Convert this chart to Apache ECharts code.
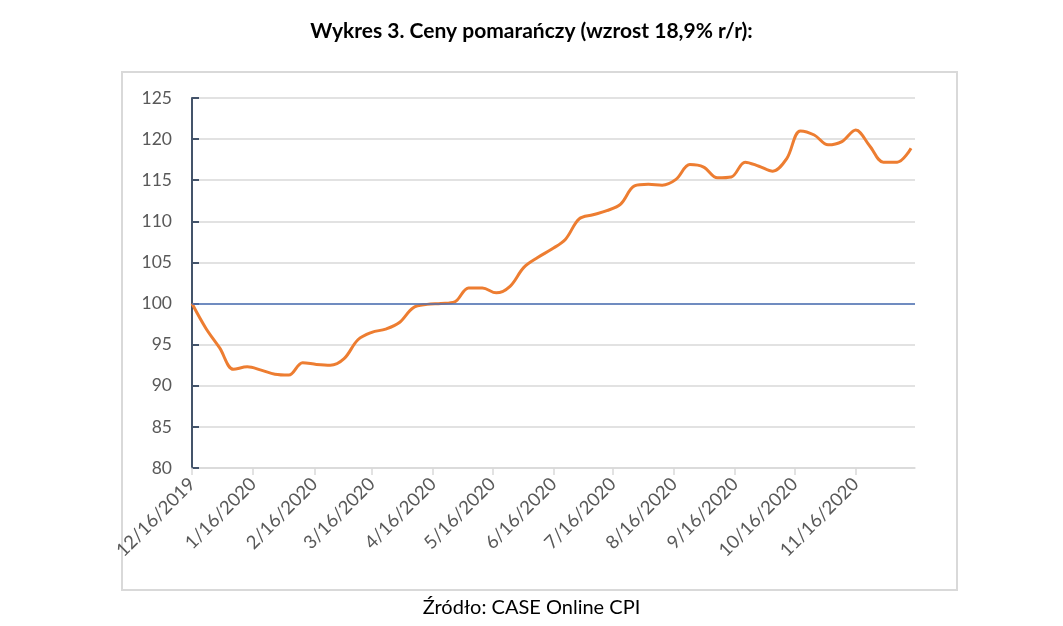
<!DOCTYPE html>
<html><head><meta charset="utf-8">
<script src="https://cdn.jsdelivr.net/npm/echarts@6/dist/echarts.min.js"></script>
<style>html,body{margin:0;padding:0;background:#fff}#c{width:1063px;height:626px}</style>
</head><body><div id="c"></div>
<script>
const titleText = 'Wykres 3. Ceny pomarańczy (wzrost 18,9% r/r):';
const sourceText = 'Źródło: CASE Online CPI';
const dates = [
 '2019-12-16','2019-12-23','2019-12-30','2020-01-06','2020-01-13','2020-01-20','2020-01-27',
 '2020-02-03','2020-02-10','2020-02-17','2020-02-24','2020-03-02','2020-03-09','2020-03-16',
 '2020-03-23','2020-03-30','2020-04-06','2020-04-13','2020-04-20','2020-04-27','2020-05-04',
 '2020-05-11','2020-05-18','2020-05-25','2020-06-01','2020-06-08','2020-06-15','2020-06-22',
 '2020-06-29','2020-07-06','2020-07-13','2020-07-20','2020-07-27','2020-08-03','2020-08-10',
 '2020-08-17','2020-08-24','2020-08-31','2020-09-07','2020-09-14','2020-09-21','2020-09-28',
 '2020-10-05','2020-10-12','2020-10-19','2020-10-26','2020-11-02','2020-11-09','2020-11-16',
 '2020-11-23','2020-11-30','2020-12-07','2020-12-14'
];
const prices = [
 100, 97.0, 94.6, 92.0, 92.3, 91.9, 91.4,
 91.3, 92.8, 92.6, 92.5, 93.3, 95.6, 96.5,
 96.9, 97.7, 99.5, 99.9, 100, 100.2, 101.9,
 101.9, 101.3, 102.1, 104.4, 105.6, 106.6, 107.8,
 110.3, 110.8, 111.3, 112.1, 114.3, 114.5, 114.4,
 115.1, 116.9, 116.6, 115.3, 115.4, 117.2, 116.7,
 116.1, 117.6, 121.0, 120.5, 119.3, 119.7, 121.1,
 119.2, 117.2, 117.2, 118.9
];
const tickDates = ['2019-12-16','2020-01-16','2020-02-16','2020-03-16','2020-04-16','2020-05-16',
 '2020-06-16','2020-07-16','2020-08-16','2020-09-16','2020-10-16','2020-11-16'];
const xMin = '2019-12-16', xMax = '2020-12-16';
const yMin = 80, yMax = 125, yStep = 5, baseLine = 100;

const DAY = 86400000;
function utc(s){const p=s.split('-');return Date.UTC(+p[0],+p[1]-1,+p[2]);}
const t0 = utc(xMin);
function dayOf(s){return Math.round((utc(s)-t0)/DAY);}
function fmt(d){const t=new Date(t0+d*DAY);return (t.getUTCMonth()+1)+'/'+t.getUTCDate()+'/'+t.getUTCFullYear();}
const tickDays = tickDates.map(dayOf);

const chart = echarts.init(document.getElementById('c'), null, {renderer:'canvas'});
chart.setOption({
  animation:false,
  backgroundColor:'#fff',
  title:[
    {text:titleText, left:'center', top:16, textStyle:{fontFamily:'Lato', fontWeight:'bold', fontSize:21, color:'#000'}},
    {text:sourceText, left:'center', top:593, textStyle:{fontFamily:'Lato', fontWeight:'normal', fontSize:20, color:'#000'}}
  ],
  graphic:[{type:'rect', shape:{x:122, y:72, width:835, height:518}, style:{fill:'none', stroke:'#d9d9d9', lineWidth:2}, silent:true, z:-1}],
  grid:{left:192, right:148, top:98, bottom:158, containLabel:false},
  xAxis:{
    type:'value', min:0, max:dayOf(xMax),
    axisLine:{show:true, onZero:false, lineStyle:{color:'#d9d9d9', width:1.5}},
    axisTick:{show:true, customValues:tickDays, length:7, lineStyle:{color:'#d9d9d9', width:1.5}},
    axisLabel:{customValues:tickDays, rotate:45, margin:13, color:'#595959', fontFamily:'Lato', fontSize:18.5,
      formatter:function(v){return fmt(v);}},
    splitLine:{show:false}
  },
  yAxis:{
    type:'value', min:yMin, max:yMax, interval:yStep,
    axisLine:{show:true, lineStyle:{color:'#44546a', width:2}},
    axisTick:{show:true, inside:true, length:7, lineStyle:{color:'#44546a', width:2}},
    axisLabel:{color:'#595959', fontFamily:'Lato', fontSize:17.5, margin:20},
    splitLine:{lineStyle:{color:'#d9d9d9', width:1.5}}
  },
  series:[{
    type:'line', data:dates.map((d,i)=>[dayOf(d),prices[i]]), smooth:0.35, showSymbol:false,
    lineStyle:{color:'#ed7d31', width:3}, z:3,
    markLine:{silent:true, symbol:'none', label:{show:false},
      lineStyle:{color:'#4a6fb5', width:1.5, type:'solid'}, data:[{yAxis:baseLine}]}
  }]
});
</script></body></html>
